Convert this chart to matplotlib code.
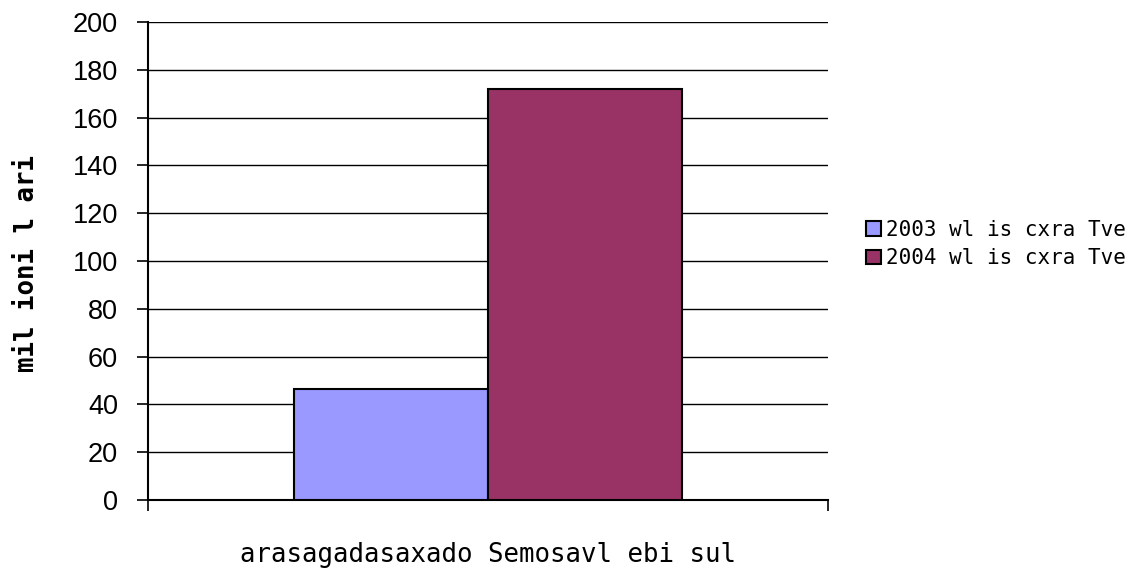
import matplotlib
matplotlib.use("Agg")
import matplotlib.pyplot as plt
from matplotlib.patches import Patch
import numpy as np

categories = ["arasagadasaxado Semosavl ebi sul"]
series_names = ["2003 wl is cxra Tve", "2004 wl is cxra Tve"]
values_2003 = [46.3]
values_2004 = [172.0]
y_ticks = [0, 20, 40, 60, 80, 100, 120, 140, 160, 180, 200]
ylabel = "mil ioni l ari"

colors = ["#9999FF", "#993366"]
mono = ["DejaVu Sans Mono", "DejaVu Sans"]

fig = plt.figure(figsize=(11.48, 5.73), dpi=100)
ax = fig.add_axes([148/1148, 1-500/573, 680/1148, 478/573])

x = np.arange(len(categories))
w = 0.286
ax.bar(x - w/2, values_2003, width=w, color=colors[0], edgecolor="black", linewidth=1.5, zorder=3)
ax.bar(x + w/2, values_2004, width=w, color=colors[1], edgecolor="black", linewidth=1.5, zorder=3)

ax.set_xlim(-0.5, 0.5)
ax.set_ylim(0, 200)
ax.set_yticks(y_ticks)
ax.set_yticklabels([str(t) for t in y_ticks], fontsize=19.5, family="Liberation Sans")
ax.yaxis.grid(True, color="black", linewidth=1.0, zorder=0)
ax.set_axisbelow(True)
ax.tick_params(axis="y", direction="out", length=8, width=1.2, pad=13.5)
ax.set_xticks([-0.5, 0.5])
ax.set_xticklabels(["", ""])
ax.tick_params(axis="x", direction="out", length=8, width=1.2)
for s in ["top", "right"]:
    ax.spines[s].set_visible(False)
for s in ["left", "bottom"]:
    ax.spines[s].set_linewidth(1.5)

ax.set_xlabel(categories[0], fontsize=18.5, family=mono)
ax.xaxis.set_label_coords(0.5, -(555-500)/478)
ax.xaxis.label.set_va("center")
ax.set_ylabel(ylabel, fontsize=18.5, family=mono, fontweight="bold")
ax.yaxis.set_label_coords((27-148)/680, (500-263)/478)
ax.yaxis.label.set_va("center")

handles = [Patch(facecolor=colors[i], edgecolor="black", linewidth=1.5) for i in range(2)]
fig.legend(handles, series_names, loc="center left", bbox_to_anchor=(866/1148, 1-244/573),
           frameon=False, prop={"family": mono, "size": 15}, handlelength=0.7,
           handleheight=0.7, handletextpad=0.25, labelspacing=0.4, borderaxespad=0,
           borderpad=0)

fig.savefig("out.png", dpi=100)
